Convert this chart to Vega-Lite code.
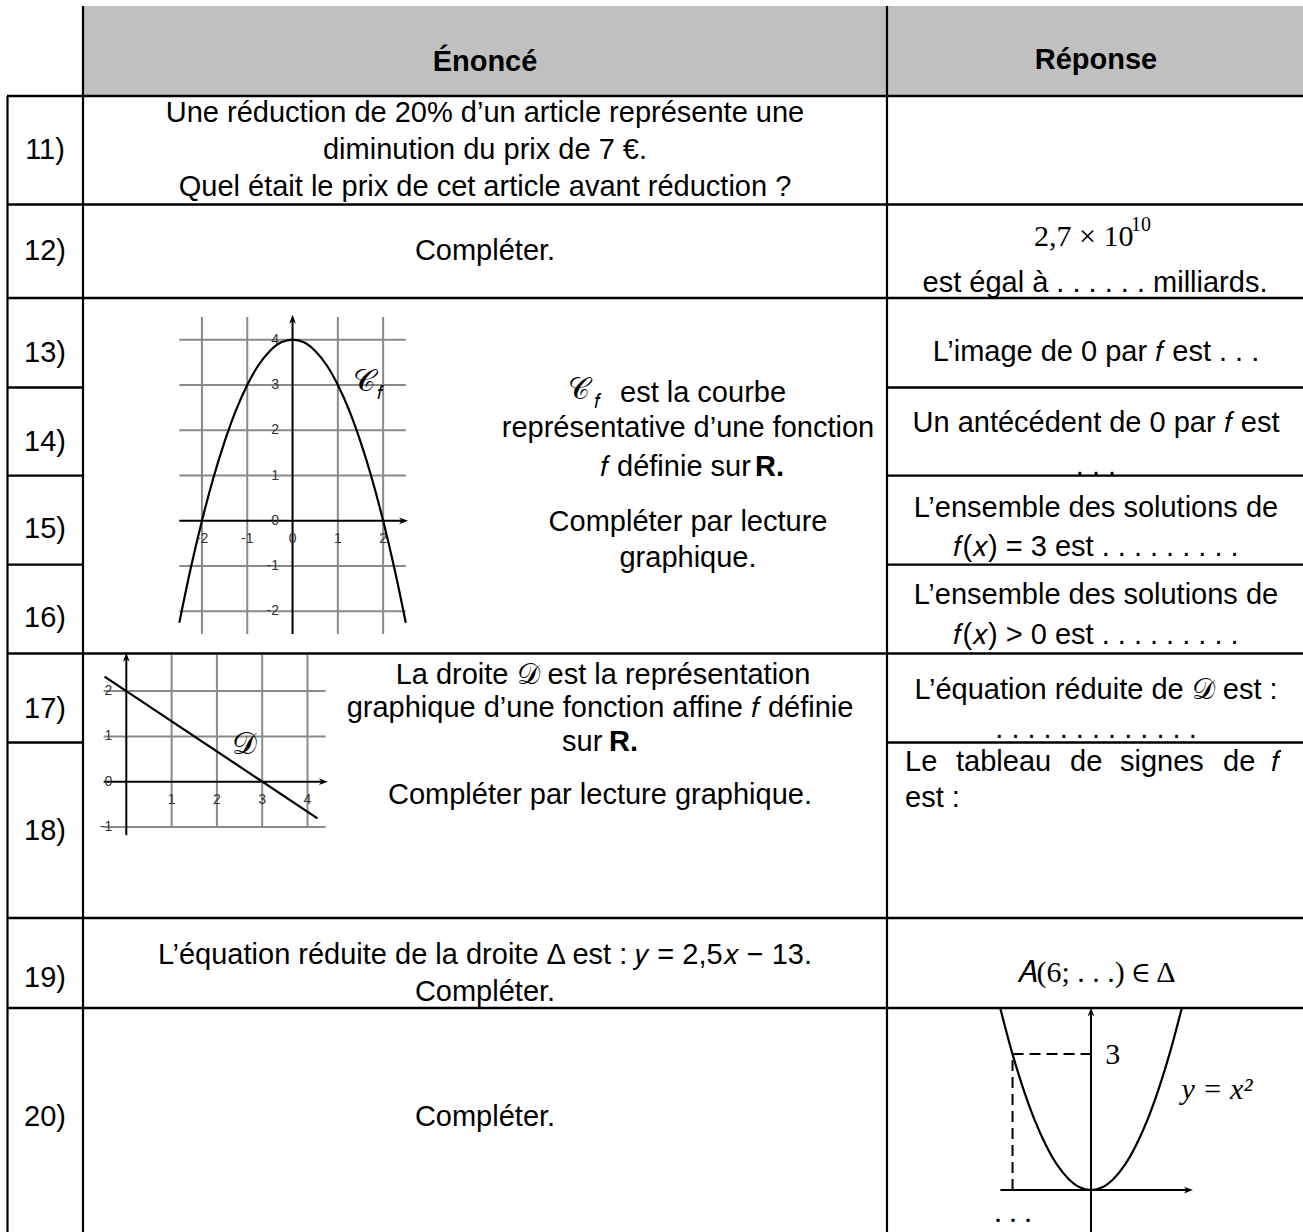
{
"$schema":"https://vega.github.io/schema/vega-lite/v6.json",
"width":1303,"height":1232,"padding":0,"autosize":{"type":"none"},
"background":"#ffffff",
"config":{"view":{"stroke":null},"text":{"font":"Liberation Sans","fontSize":29,"color":"#000000","baseline":"middle"}},
"resolve":{"scale":{"x":"independent","y":"independent"}},
"layer":[
{
"encoding":{
"x":{"field":"x","type":"quantitative","axis":null,"scale":{"domain":[0,1303],"range":[0,1303],"nice":false,"zero":false}},
"y":{"field":"y","type":"quantitative","axis":null,"scale":{"domain":[0,1232],"range":[0,1232],"nice":false,"zero":false}}
},
"layer":[
{"data":{"values":[{"x":83,"x2":1303,"y":6,"y2":96}]},"mark":{"type":"rect","fill":"#c0c0c0"},"encoding":{"x2":{"field":"x2"},"y2":{"field":"y2"}}},
{"data":{"values":[{"x":7,"x2":1303,"y":96},{"x":7,"x2":1303,"y":204.5},{"x":7,"x2":1303,"y":298},{"x":7,"x2":83,"y":387.5},{"x":887,"x2":1303,"y":387.5},{"x":7,"x2":83,"y":475.7},{"x":887,"x2":1303,"y":475.7},{"x":7,"x2":83,"y":564.6},{"x":887,"x2":1303,"y":564.6},{"x":7,"x2":1303,"y":653.5},{"x":7,"x2":83,"y":742.5},{"x":887,"x2":1303,"y":742.5},{"x":7,"x2":1303,"y":918},{"x":7,"x2":1303,"y":1008}]},"mark":{"type":"rule","stroke":"#000000","strokeWidth":2.3},"encoding":{"x2":{"field":"x2"}}},
{"data":{"values":[{"x":7.5,"y":96,"y2":1232},{"x":83,"y":6,"y2":1232},{"x":887,"y":6,"y2":1232}]},"mark":{"type":"rule","stroke":"#000000","strokeWidth":2.2},"encoding":{"y2":{"field":"y2"}}},
{"data":{"values":[{"x":485,"y":62,"t":"Énoncé"},{"x":1096,"y":60,"t":"Réponse"}]},"mark":{"type":"text","align":"center","fontWeight":"bold"},"encoding":{"text":{"field":"t"}}},
{"data":{"values":[
{"x":45,"y":150,"t":"11)"},{"x":45,"y":251,"t":"12)"},{"x":45,"y":353,"t":"13)"},{"x":45,"y":442,"t":"14)"},{"x":45,"y":529,"t":"15)"},{"x":45,"y":618,"t":"16)"},{"x":45,"y":709,"t":"17)"},{"x":45,"y":831,"t":"18)"},{"x":45,"y":978,"t":"19)"},{"x":45,"y":1117,"t":"20)"},
{"x":485,"y":113,"t":"Une réduction de 20% d’un article représente une"},
{"x":485,"y":150,"t":"diminution du prix de 7 €."},
{"x":485,"y":187,"t":"Quel était le prix de cet article avant réduction ?"},
{"x":485,"y":251,"t":"Compléter."},
{"x":1095,"y":283,"t":"est égal à . . . . . . milliards."},
{"x":1096,"y":352,"t":"L’image de 0 par 𝑓 est . . ."},
{"x":1096,"y":423,"t":"Un antécédent de 0 par 𝑓 est"},
{"x":1096,"y":466,"t":". . ."},
{"x":1096,"y":508,"t":"L’ensemble des solutions de"},
{"x":1096,"y":547,"t":"𝑓(𝑥) = 3 est . . . . . . . . ."},
{"x":1096,"y":595,"t":"L’ensemble des solutions de"},
{"x":1096,"y":635,"t":"𝑓(𝑥) > 0 est . . . . . . . . ."},
{"x":1096,"y":690,"t":"L’équation réduite de 𝒟 est :"},
{"x":1096,"y":729,"t":". . . . . . . . . . . . ."},
{"x":688,"y":428,"t":"représentative d’une fonction"},
{"x":688,"y":522,"t":"Compléter par lecture"},
{"x":688,"y":558,"t":"graphique."},
{"x":603,"y":675,"t":"La droite 𝒟 est la représentation"},
{"x":600,"y":708,"t":"graphique d’une fonction affine 𝑓 définie"},
{"x":600,"y":795,"t":"Compléter par lecture graphique."},
{"x":485,"y":955,"t":"L’équation réduite de la droite Δ est : 𝑦 = 2,5𝑥 − 13."},
{"x":485,"y":992,"t":"Compléter."},
{"x":485,"y":1117,"t":"Compléter."}
]},"mark":{"type":"text","align":"center"},"encoding":{"text":{"field":"t"}}},
{"data":{"values":[
{"x":620,"y":393,"t":"est la courbe"},
{"x":600,"y":467,"t":"𝑓 définie sur"},
{"x":562,"y":742,"t":"sur"},
{"x":905,"y":762,"t":"Le"},{"x":956,"y":762,"t":"tableau"},{"x":1070,"y":762,"t":"de"},{"x":1120,"y":762,"t":"signes"},{"x":1223,"y":762,"t":"de"},{"x":1271,"y":762,"t":"𝑓"},
{"x":905,"y":798,"t":"est :"}
]},"mark":{"type":"text","align":"left"},"encoding":{"text":{"field":"t"}}},
{"data":{"values":[{"x":755,"y":467,"t":"R."},{"x":609,"y":742,"t":"R."}]},"mark":{"type":"text","align":"left","fontWeight":"bold"},"encoding":{"text":{"field":"t"}}},
{"data":{"values":[{"x":1034,"y":237,"t":"2,7 × 10"},{"x":568,"y":390,"t":"𝒞"}]},"mark":{"type":"text","align":"left","font":"Liberation Serif","fontSize":30},"encoding":{"text":{"field":"t"}}},
{"data":{"values":[{"x":1131,"y":225,"t":"10"},{"x":594,"y":402,"t":"𝑓"}]},"mark":{"type":"text","align":"left","font":"Liberation Serif","fontSize":20},"encoding":{"text":{"field":"t"}}},
{"data":{"values":[{"x":1096,"y":973,"t":"𝐴(6; . . .) ∈ Δ"}]},"mark":{"type":"text","align":"center","font":"Liberation Serif","fontSize":30},"encoding":{"text":{"field":"t"}}}
]
},
{
"encoding":{
"x":{"field":"x","type":"quantitative","axis":null,"scale":{"domain":[-2.5,2.5],"range":[179.3,405.8],"nice":false,"zero":false}},
"y":{"field":"y","type":"quantitative","axis":null,"scale":{"domain":[-2.5,4.5],"range":[634,317],"nice":false,"zero":false}}
},
"layer":[
{"data":{"values":[{"x":-2.5,"x2":2.5,"y":-2},{"x":-2.5,"x2":2.5,"y":-1},{"x":-2.5,"x2":2.5,"y":1},{"x":-2.5,"x2":2.5,"y":2},{"x":-2.5,"x2":2.5,"y":3},{"x":-2.5,"x2":2.5,"y":4}]},"mark":{"type":"rule","stroke":"#8a8a8a","strokeWidth":2},"encoding":{"x2":{"field":"x2"}}},
{"data":{"values":[{"x":-2,"y":-2.5,"y2":4.5},{"x":-1,"y":-2.5,"y2":4.5},{"x":1,"y":-2.5,"y2":4.5},{"x":2,"y":-2.5,"y2":4.5}]},"mark":{"type":"rule","stroke":"#8a8a8a","strokeWidth":2},"encoding":{"y2":{"field":"y2"}}},
{"data":{"values":[{"x":-2.5,"x2":2.45,"y":0}]},"mark":{"type":"rule","stroke":"#000000","strokeWidth":2},"encoding":{"x2":{"field":"x2"}}},
{"data":{"values":[{"x":0,"y":-2.5,"y2":4.45}]},"mark":{"type":"rule","stroke":"#000000","strokeWidth":2},"encoding":{"y2":{"field":"y2"}}},
{"data":{"values":[{"x":2.45,"y":0}]},"mark":{"type":"point","shape":"M1,0L-1,-0.75L-0.4,0L-1,0.75Z","filled":true,"fill":"#000000","strokeWidth":0,"size":81,"opacity":1}},
{"data":{"values":[{"x":0,"y":4.45}]},"mark":{"type":"point","shape":"M1,0L-1,-0.75L-0.4,0L-1,0.75Z","filled":true,"fill":"#000000","strokeWidth":0,"size":81,"angle":-90,"opacity":1}},
{"data":{"values":[{"x":-2.5,"y":-2.25},{"x":-2.25,"y":-1.06},{"x":-2,"y":0},{"x":-1.75,"y":0.94},{"x":-1.5,"y":1.75},{"x":-1.25,"y":2.44},{"x":-1,"y":3},{"x":-0.75,"y":3.44},{"x":-0.5,"y":3.75},{"x":-0.25,"y":3.94},{"x":0,"y":4},{"x":0.25,"y":3.94},{"x":0.5,"y":3.75},{"x":0.75,"y":3.44},{"x":1,"y":3},{"x":1.25,"y":2.44},{"x":1.5,"y":1.75},{"x":1.75,"y":0.94},{"x":2,"y":0},{"x":2.25,"y":-1.06},{"x":2.5,"y":-2.25}]},"mark":{"type":"line","stroke":"#000000","strokeWidth":2.2,"interpolate":"monotone"}},
{"data":{"values":[{"x":-2,"y":-0.4,"t":"-2"},{"x":-1,"y":-0.4,"t":"-1"},{"x":0,"y":-0.4,"t":"0"},{"x":1,"y":-0.4,"t":"1"},{"x":2,"y":-0.4,"t":"2"}]},"mark":{"type":"text","align":"center","fontSize":14,"color":"#333333"},"encoding":{"text":{"field":"t"}}},
{"data":{"values":[{"x":-0.3,"y":-2,"t":"-2"},{"x":-0.3,"y":-1,"t":"-1"},{"x":-0.3,"y":0,"t":"0"},{"x":-0.3,"y":1,"t":"1"},{"x":-0.3,"y":2,"t":"2"},{"x":-0.3,"y":3,"t":"3"},{"x":-0.3,"y":4,"t":"4"}]},"mark":{"type":"text","align":"right","fontSize":14,"color":"#333333"},"encoding":{"text":{"field":"t"}}},
{"data":{"values":[{"x":1.59,"y":3.06,"t":"𝒞"}]},"mark":{"type":"text","align":"center","font":"Liberation Serif","fontSize":31},"encoding":{"text":{"field":"t"}}},
{"data":{"values":[{"x":1.92,"y":2.83,"t":"𝑓"}]},"mark":{"type":"text","align":"center","font":"Liberation Serif","fontSize":19},"encoding":{"text":{"field":"t"}}}
]
},
{
"encoding":{
"x":{"field":"x","type":"quantitative","axis":null,"scale":{"domain":[-0.5,4.5],"range":[103.65,330.15],"nice":false,"zero":false}},
"y":{"field":"y","type":"quantitative","axis":null,"scale":{"domain":[-1.5,2.8],"range":[849.65,654.86],"nice":false,"zero":false}}
},
"layer":[
{"data":{"values":[{"x":-0.5,"x2":4.4,"y":-1},{"x":-0.5,"x2":4.4,"y":1},{"x":-0.5,"x2":4.4,"y":2}]},"mark":{"type":"rule","stroke":"#8a8a8a","strokeWidth":2},"encoding":{"x2":{"field":"x2"}}},
{"data":{"values":[{"x":1,"y":-1,"y2":2.8},{"x":2,"y":-1,"y2":2.8},{"x":3,"y":-1,"y2":2.8},{"x":4,"y":-1,"y2":2.8}]},"mark":{"type":"rule","stroke":"#8a8a8a","strokeWidth":2},"encoding":{"y2":{"field":"y2"}}},
{"data":{"values":[{"x":-0.5,"x2":4.35,"y":0}]},"mark":{"type":"rule","stroke":"#000000","strokeWidth":2},"encoding":{"x2":{"field":"x2"}}},
{"data":{"values":[{"x":0,"y":-1.18,"y2":2.75}]},"mark":{"type":"rule","stroke":"#000000","strokeWidth":2},"encoding":{"y2":{"field":"y2"}}},
{"data":{"values":[{"x":4.35,"y":0}]},"mark":{"type":"point","shape":"M1,0L-1,-0.75L-0.4,0L-1,0.75Z","filled":true,"fill":"#000000","strokeWidth":0,"size":81,"opacity":1}},
{"data":{"values":[{"x":0,"y":2.75}]},"mark":{"type":"point","shape":"M1,0L-1,-0.75L-0.4,0L-1,0.75Z","filled":true,"fill":"#000000","strokeWidth":0,"size":81,"angle":-90,"opacity":1}},
{"data":{"values":[{"x":-0.48,"y":2.32},{"x":4.22,"y":-0.81}]},"mark":{"type":"line","stroke":"#000000","strokeWidth":2.2}},
{"data":{"values":[{"x":1,"y":-0.4,"t":"1"},{"x":2,"y":-0.4,"t":"2"},{"x":3,"y":-0.4,"t":"3"},{"x":4,"y":-0.4,"t":"4"}]},"mark":{"type":"text","align":"center","fontSize":14,"color":"#333333"},"encoding":{"text":{"field":"t"}}},
{"data":{"values":[{"x":-0.31,"y":-1,"t":"-1"},{"x":-0.31,"y":0,"t":"0"},{"x":-0.31,"y":1,"t":"1"},{"x":-0.31,"y":2,"t":"2"}]},"mark":{"type":"text","align":"right","fontSize":14,"color":"#333333"},"encoding":{"text":{"field":"t"}}},
{"data":{"values":[{"x":2.6,"y":0.8,"t":"𝒟"}]},"mark":{"type":"text","align":"center","font":"Liberation Serif","fontSize":31},"encoding":{"text":{"field":"t"}}}
]
},
{
"encoding":{
"x":{"field":"x","type":"quantitative","axis":null,"scale":{"domain":[-2,2.3],"range":[1000.4,1195.2],"nice":false,"zero":false}},
"y":{"field":"y","type":"quantitative","axis":null,"scale":{"domain":[-1,4],"range":[1235.3,1008.8],"nice":false,"zero":false}}
},
"layer":[
{"data":{"values":[{"x":-2,"x2":2.15,"y":0}]},"mark":{"type":"rule","stroke":"#000000","strokeWidth":2},"encoding":{"x2":{"field":"x2"}}},
{"data":{"values":[{"x":0,"y":-1,"y2":3.93}]},"mark":{"type":"rule","stroke":"#000000","strokeWidth":2},"encoding":{"y2":{"field":"y2"}}},
{"data":{"values":[{"x":2.15,"y":0}]},"mark":{"type":"point","shape":"M1,0L-1,-0.75L-0.4,0L-1,0.75Z","filled":true,"fill":"#000000","strokeWidth":0,"size":81,"opacity":1}},
{"data":{"values":[{"x":0,"y":3.93}]},"mark":{"type":"point","shape":"M1,0L-1,-0.75L-0.4,0L-1,0.75Z","filled":true,"fill":"#000000","strokeWidth":0,"size":81,"angle":-90,"opacity":1}},
{"data":{"values":[{"x":-1.732,"x2":0,"y":3}]},"mark":{"type":"rule","stroke":"#000000","strokeWidth":2,"strokeDash":[11,6]},"encoding":{"x2":{"field":"x2"}}},
{"data":{"values":[{"x":-1.732,"y":0,"y2":2.9}]},"mark":{"type":"rule","stroke":"#000000","strokeWidth":2,"strokeDash":[11,6]},"encoding":{"y2":{"field":"y2"}}},
{"data":{"values":[{"x":-2,"y":4},{"x":-1.75,"y":3.06},{"x":-1.5,"y":2.25},{"x":-1.25,"y":1.56},{"x":-1,"y":1},{"x":-0.75,"y":0.56},{"x":-0.5,"y":0.25},{"x":-0.25,"y":0.06},{"x":0,"y":0},{"x":0.25,"y":0.06},{"x":0.5,"y":0.25},{"x":0.75,"y":0.56},{"x":1,"y":1},{"x":1.25,"y":1.56},{"x":1.5,"y":2.25},{"x":1.75,"y":3.06},{"x":2,"y":4}]},"mark":{"type":"line","stroke":"#000000","strokeWidth":2.2,"interpolate":"monotone"}},
{"data":{"values":[{"x":0.48,"y":2.98,"t":"3"}]},"mark":{"type":"text","align":"center","font":"Liberation Serif","fontSize":30},"encoding":{"text":{"field":"t"}}},
{"data":{"values":[{"x":2.78,"y":2.2,"t":"y = x²"}]},"mark":{"type":"text","align":"center","font":"Liberation Serif","fontStyle":"italic","fontSize":30},"encoding":{"text":{"field":"t"}}},
{"data":{"values":[{"x":-1.72,"y":-0.5,"t":". . ."}]},"mark":{"type":"text","align":"center","font":"Liberation Serif","fontSize":30},"encoding":{"text":{"field":"t"}}}
]
}
]
}
